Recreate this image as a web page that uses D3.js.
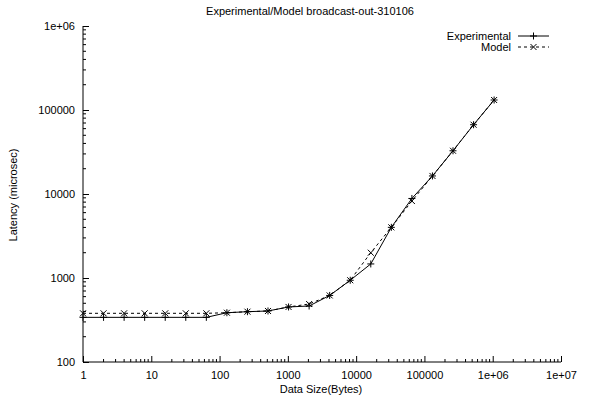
<!DOCTYPE html>
<html><head><meta charset="utf-8">
<script src="https://cdn.jsdelivr.net/npm/d3@7"></script>
<style>
body{margin:0;background:#fff;}
svg{display:block;font-family:"Liberation Sans",Arial,sans-serif;}
</style></head>
<body><svg id="c" width="590" height="400"></svg>
<script>
const sizes = [1,2,4,8,16,32,64,128,256,512,1024,2048,4096,8192,16384,32768,65536,131072,262144,524288,1048576];
const experimental = [340,340,340,340,340,340,340,386,397,405,452,464,620,940,1470,4010,8850,16400,32700,66800,131500];
const model = [380,380,380,380,380,380,380,386,397,405,452,490,620,940,2000,4010,8250,16400,32700,66800,131500];
const xTickValues = [1,10,100,1000,10000,100000,1e6,1e7];
const xTickLabels = ["1","10","100","1000","10000","100000","1e+06","1e+07"];
const yTickValues = [100,1000,10000,100000,1e6];
const yTickLabels = ["100","1000","10000","100000","1e+06"];

const svg = d3.select("#c");
const L=83, R=561, T=26, B=362;
const x = d3.scaleLog().domain([1,1e7]).range([L,R]);
const y = d3.scaleLog().domain([100,1e6]).range([B,T]);

function minors(lo, hi){
  const out=[];
  for(let d=lo; d<hi; d*=10) for(let k=2;k<=9;k++) out.push(d*k);
  return out;
}

// axes lines
svg.append("line").attr("x1",L).attr("x2",L).attr("y1",T).attr("y2",B).attr("stroke","#000");
svg.append("line").attr("x1",L).attr("x2",R).attr("y1",B).attr("y2",B).attr("stroke","#000");

// x ticks
const gx = svg.append("g").attr("transform",`translate(0,${B})`);
gx.call(d3.axisBottom(x).tickValues(xTickValues).tickSize(-6).tickPadding(9)
  .tickFormat((d,i)=>xTickLabels[i]));
gx.select(".domain").remove();
gx.selectAll("text").attr("font-size",11).attr("font-family","Liberation Sans, Arial, sans-serif").attr("dy","0.32em").attr("y",13);
gx.selectAll("line").attr("stroke","#000");
gx.selectAll(".minor").data(minors(1,1e7)).enter().append("line")
  .attr("x1",d=>x(d)).attr("x2",d=>x(d)).attr("y1",0).attr("y2",-3).attr("stroke","#000");

// y ticks
const gy = svg.append("g").attr("transform",`translate(${L},0)`);
gy.call(d3.axisLeft(y).tickValues(yTickValues).tickSize(-6).tickPadding(14)
  .tickFormat((d,i)=>yTickLabels[i]));
gy.select(".domain").remove();
gy.selectAll("text").attr("font-size",11).attr("font-family","Liberation Sans, Arial, sans-serif").attr("x",-8);
gy.selectAll("line").attr("stroke","#000");
gy.selectAll(".minor").data(minors(100,1e6)).enter().append("line")
  .attr("x1",0).attr("x2",3).attr("y1",d=>y(d)).attr("y2",d=>y(d)).attr("stroke","#000");

// labels
svg.append("text").attr("x",310).attr("y",15).attr("text-anchor","middle").attr("font-size",11).text("Experimental/Model broadcast-out-310106");
svg.append("text").attr("x",321).attr("y",393).attr("text-anchor","middle").attr("font-size",11).text("Data Size(Bytes)");
svg.append("text").attr("transform","translate(17,195) rotate(-90)").attr("text-anchor","middle").attr("font-size",11).text("Latency (microsec)");

const line = d3.line().x((d,i)=>x(sizes[i])).y(d=>y(d));
svg.append("path").datum(model).attr("d",line).attr("fill","none").attr("stroke","#000").attr("stroke-dasharray","3,3");
svg.append("path").datum(experimental).attr("d",line).attr("fill","none").attr("stroke","#000");

function plus(g,cx,cy){ g.append("path").attr("d",`M${cx-3.5},${cy}H${cx+3.5}M${cx},${cy-3.5}V${cy+3.5}`).attr("stroke","#000").attr("fill","none"); }
function cross(g,cx,cy){ g.append("path").attr("d",`M${cx-3},${cy-3}L${cx+3},${cy+3}M${cx-3},${cy+3}L${cx+3},${cy-3}`).attr("stroke","#000").attr("fill","none"); }
const gm = svg.append("g");
experimental.forEach((v,i)=>plus(gm,x(sizes[i]),y(v)));
model.forEach((v,i)=>cross(gm,x(sizes[i]),y(v)));

// legend
const lg = svg.append("g");
lg.append("text").attr("x",511).attr("y",40).attr("text-anchor","end").attr("font-size",11).text("Experimental");
lg.append("line").attr("x1",518).attr("x2",549).attr("y1",36).attr("y2",36).attr("stroke","#000");
plus(lg,533.5,36);
lg.append("text").attr("x",511).attr("y",51).attr("text-anchor","end").attr("font-size",11).text("Model");
lg.append("line").attr("x1",518).attr("x2",549).attr("y1",47).attr("y2",47).attr("stroke","#000").attr("stroke-dasharray","3,3");
cross(lg,533.5,47);
</script></body></html>
